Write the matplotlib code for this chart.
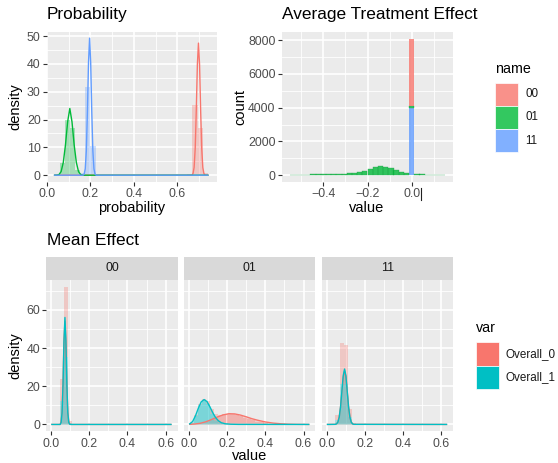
import matplotlib
matplotlib.use("Agg")
import matplotlib.pyplot as plt
from matplotlib.patches import Rectangle
from matplotlib.lines import Line2D

plt.rcParams["font.family"] = ["Liberation Sans", "DejaVu Sans"]

# ---------------- data ----------------
names = ["00", "01", "11"]
name_colors = ["#F8766D", "#00BA38", "#619CFF"]
var_names = ["Overall_0", "Overall_1"]
var_colors = ["#F8766D", "#00BFC4"]

# Probability : histogram (density) + density line per name
prob_bin_width = 0.0235
prob_centers_00 = [0.658, 0.681, 0.705, 0.728]
prob_hist_00 = [0.5, 25.4, 17.0, 0.8]
prob_centers_01 = [0.047, 0.0705, 0.094, 0.1175, 0.141]
prob_hist_01 = [0.3, 4.5, 20.0, 17.0, 2.0]
prob_centers_11 = [0.1645, 0.188, 0.2115, 0.235]
prob_hist_11 = [0.8, 31.8, 10.4, 0.2]

dens_x_00 = [0.035, 0.667, 0.672, 0.677, 0.682, 0.687, 0.692, 0.697, 0.702, 0.707, 0.712, 0.717, 0.722, 0.727, 0.74]
dens_y_00 = [0, 0, 0.6, 2.8, 9.6, 23.4, 39.8, 47.5, 39.8, 23.4, 9.6, 2.8, 0.6, 0, 0]
dens_x_01 = [0.035, 0.045, 0.055, 0.065, 0.075, 0.085, 0.095, 0.105, 0.115, 0.125, 0.135, 0.145, 0.155, 0.165, 0.74]
dens_y_01 = [0, 0, 0.2, 1.3, 4.6, 10.9, 19.2, 24.0, 19.2, 10.9, 4.6, 1.3, 0.2, 0, 0]
dens_x_11 = [0.035, 0.166, 0.171, 0.176, 0.181, 0.186, 0.191, 0.196, 0.201, 0.206, 0.211, 0.216, 0.221, 0.226, 0.74]
dens_y_11 = [0, 0, 0.4, 2.3, 8.8, 22.9, 40.5, 49.3, 40.5, 22.9, 8.8, 2.3, 0.4, 0, 0]

# Average Treatment Effect : stacked count histogram
ate_bin_width = 0.0235
ate_centers = [-0.541, -0.517, -0.494, -0.470, -0.447, -0.423, -0.400, -0.376, -0.353, -0.329,
               -0.306, -0.282, -0.259, -0.235, -0.212, -0.188, -0.165, -0.141, -0.118, -0.094,
               -0.071, -0.047, -0.024, 0.000, 0.024, 0.047, 0.071, 0.094, 0.118, 0.141]
ate_count_00 = [0] * 23 + [4010] + [0] * 6
ate_count_01 = [30, 32, 35, 38, 42, 46, 50, 55, 62, 70, 80, 100, 130, 185, 265,
                380, 480, 530, 510, 420, 300, 185, 105, 80, 70, 50, 40, 35, 32, 30]
ate_count_11 = [0] * 23 + [4000] + [0] * 6

# Mean Effect : facets by name, histogram (stacked density) + density per var
mean_bin_width = 0.0215
mean_centers = [0.014, 0.036, 0.057, 0.079, 0.100, 0.122, 0.143, 0.165, 0.186, 0.208,
                0.229, 0.251, 0.272, 0.294, 0.315, 0.337, 0.358, 0.380, 0.401, 0.423,
                0.444, 0.466, 0.487, 0.509, 0.530, 0.552, 0.573, 0.595, 0.616]
hist_00_o0 = [0, 0, 12.0, 36.5, 1.0]
hist_00_o1 = [0, 0, 12.0, 35.5, 1.0]
hist_01_o0 = [0.05, 0.2, 0.5, 1.0, 1.7, 2.6, 3.6, 4.5, 5.2, 5.6, 5.5, 5.1, 4.4, 3.6, 2.8,
              2.1, 1.5, 1.05, 0.7, 0.45, 0.3, 0.18, 0.1, 0.06, 0.03, 0.02, 0.01, 0.01, 0]
hist_01_o1 = [0.8, 4.5, 10.0, 12.5, 10.5, 5.5, 2.0, 0.6, 0.2, 0.1]
hist_11_o0 = [0, 0, 2.4, 21.2, 20.4, 4.2, 0.3]
hist_11_o1 = [0, 0, 2.3, 21.2, 21.0, 4.0, 0.3]

md_x_00 = [0.005, 0.048, 0.053, 0.058, 0.063, 0.068, 0.073, 0.078, 0.083, 0.088, 0.093, 0.098, 0.103, 0.627]
md_y_00_o0 = [0, 0, 1.5, 7.0, 22.0, 44.0, 54.0, 42.0, 20.0, 6.5, 1.5, 0.2, 0, 0]
md_y_00_o1 = [0, 0, 1.0, 6.0, 20.8, 43.7, 56.0, 43.7, 20.8, 6.0, 1.0, 0.1, 0, 0]
md_x_01_o0 = [0.005, 0.03, 0.06, 0.09, 0.12, 0.15, 0.18, 0.21, 0.24, 0.27, 0.30, 0.33,
              0.36, 0.40, 0.44, 0.48, 0.52, 0.56, 0.627]
md_y_01_o0 = [0.05, 0.2, 0.6, 1.4, 2.6, 3.9, 5.0, 5.6, 5.5, 4.9, 4.0, 3.0,
              2.2, 1.3, 0.7, 0.35, 0.15, 0.06, 0]
md_x_01_o1 = [0.005, 0.02, 0.035, 0.05, 0.065, 0.08, 0.095, 0.11, 0.125, 0.14, 0.155,
              0.17, 0.19, 0.22, 0.26, 0.627]
md_y_01_o1 = [0.3, 1.5, 4.5, 8.5, 11.8, 13.0, 12.0, 9.3, 6.2, 3.6, 1.9,
              0.9, 0.35, 0.1, 0.02, 0]
md_x_11 = [0.005, 0.045, 0.052, 0.059, 0.066, 0.073, 0.080, 0.087, 0.094, 0.101,
           0.108, 0.115, 0.122, 0.129, 0.136, 0.143, 0.627]
md_y_11_o0 = [0, 0.06, 0.3, 1.3, 3.9, 9.3, 17.0, 24.5, 28.0, 24.8, 17.2, 9.3, 3.9, 1.3, 0.3, 0.06, 0]
md_y_11_o1 = [0, 0.05, 0.28, 1.16, 3.7, 9.1, 17.3, 25.5, 29.0, 25.5, 17.3, 9.1, 3.7, 1.16, 0.28, 0.05, 0]

# ---------------- figure ----------------
W, H = 558, 463
fig = plt.figure(figsize=(W / 100, H / 100), dpi=100)


def px_axes(x0, y0, x1, y1):
    return fig.add_axes([x0 / W, 1 - y1 / H, (x1 - x0) / W, (y1 - y0) / H])


def ftext(x, y, s, **kw):
    fig.text(x / W, 1 - y / H, s, **kw)


def gg_style(ax, xmaj, xlab, xmin, ymaj, ylab, ymin, xlim, ylim, show_y=True):
    ax.set_facecolor("#EBEBEB")
    for sp in ax.spines.values():
        sp.set_visible(False)
    ax.set_xlim(xlim)
    ax.set_ylim(ylim)
    ax.set_xticks(xmaj)
    ax.set_xticklabels(xlab)
    ax.set_xticks(xmin, minor=True)
    ax.set_yticks(ymaj)
    ax.set_yticks(ymin, minor=True)
    if show_y:
        ax.set_yticklabels(ylab)
    else:
        ax.set_yticklabels([])
    ax.grid(which="major", color="white", linewidth=1.2)
    ax.grid(which="minor", color="white", linewidth=0.6)
    ax.set_axisbelow(True)
    ax.tick_params(which="major", length=3, width=0.8, color="#333333",
                   labelsize=8.9, labelcolor="#4D4D4D", pad=1.5)
    ax.tick_params(which="minor", length=0)
    if not show_y:
        ax.tick_params(axis="y", which="major", length=0)


# --- Probability ---
ax1 = px_axes(47, 32, 216.5, 182)
gg_style(ax1, [0, 0.2, 0.4, 0.6], ["0.0", "0.2", "0.4", "0.6"], [0.1, 0.3, 0.5, 0.7],
         [0, 10, 20, 30, 40, 50], ["0", "10", "20", "30", "40", "50"], [5, 15, 25, 35, 45],
         (0.0, 0.78), (-2.45, 51.5))
prob_centers = [prob_centers_00, prob_centers_01, prob_centers_11]
prob_hists = [prob_hist_00, prob_hist_01, prob_hist_11]
for c, h, col in zip(prob_centers, prob_hists, name_colors):
    ax1.bar(c, h, width=prob_bin_width, color=col, alpha=0.3, linewidth=0)
for xs, ys, col in zip([dens_x_00, dens_x_01, dens_x_11], [dens_y_00, dens_y_01, dens_y_11], name_colors):
    ax1.plot(xs, ys, color=col, linewidth=1.0)

# --- Average Treatment Effect ---
ax2 = px_axes(281.7, 32, 452.7, 182)
gg_style(ax2, [-0.4, -0.2, 0.0], ["\u22120.4", "\u22120.2", "0.0"], [-0.5, -0.3, -0.1, 0.1],
         [0, 2000, 4000, 6000, 8000], ["0", "2000", "4000", "6000", "8000"], [1000, 3000, 5000, 7000],
         (-0.5885, 0.1856), (-404, 8484))
bottom_01 = ate_count_11
bottom_00 = [a + b for a, b in zip(ate_count_11, ate_count_01)]
ax2.bar(ate_centers, ate_count_11, width=ate_bin_width, color=name_colors[2], alpha=0.8, linewidth=0)
ax2.bar(ate_centers, ate_count_01, width=ate_bin_width, bottom=bottom_01, color=name_colors[1], alpha=0.8,
        edgecolor="#1E9E48", linewidth=0.3)
ax2.bar(ate_centers, ate_count_00, width=ate_bin_width, bottom=bottom_00, color=name_colors[0], alpha=0.8, linewidth=0)

# --- Mean Effect facets ---
facet_x = [(46.2, 177.6), (184.0, 315.4), (321.8, 453.2)]
facet_hist_o0 = [hist_00_o0, hist_01_o0, hist_11_o0]
facet_hist_o1 = [hist_00_o1, hist_01_o1, hist_11_o1]
facet_lines_o0 = [(md_x_00, md_y_00_o0), (md_x_01_o0, md_y_01_o0), (md_x_11, md_y_11_o0)]
facet_lines_o1 = [(md_x_00, md_y_00_o1), (md_x_01_o1, md_y_01_o1), (md_x_11, md_y_11_o1)]

for i, (nm, (x0, x1)) in enumerate(zip(names, facet_x)):
    ax = px_axes(x0, 280, x1, 431.3)
    gg_style(ax, [0, 0.2, 0.4, 0.6], ["0.0", "0.2", "0.4", "0.6"], [0.1, 0.3, 0.5],
             [0, 20, 40, 60], ["0", "20", "40", "60"], [10, 30, 50, 70],
             (-0.025, 0.662), (-3.6, 75.6), show_y=(i == 0))
    o1 = facet_hist_o1[i] + [0] * (len(mean_centers) - len(facet_hist_o1[i]))
    o0 = facet_hist_o0[i] + [0] * (len(mean_centers) - len(facet_hist_o0[i]))
    ax.bar(mean_centers, o1, width=mean_bin_width, color=var_colors[1], alpha=0.3, linewidth=0)
    ax.bar(mean_centers, o0, width=mean_bin_width, bottom=o1, color=var_colors[0], alpha=0.3, linewidth=0)
    for (xs, ys), col in zip([facet_lines_o0[i], facet_lines_o1[i]], var_colors):
        ax.fill_between(xs, ys, 0, color=col, alpha=0.25, linewidth=0)
        ax.plot(xs, ys, color=col, linewidth=1.0)
    sax = px_axes(x0, 256.7, x1, 280)
    sax.set_facecolor("#D9D9D9")
    sax.set_xticks([])
    sax.set_yticks([])
    for sp in sax.spines.values():
        sp.set_visible(False)
    sax.text(0.5, 0.5, nm, transform=sax.transAxes, ha="center", va="center",
             fontsize=8.9, color="#1A1A1A")

# --- titles and axis labels ---
ftext(47, 15, "Probability", fontsize=12.4, ha="left", va="center")
ftext(282, 15, "Average Treatment Effect", fontsize=12.4, ha="left", va="center")
ftext(47, 240, "Mean Effect", fontsize=12.4, ha="left", va="center")
ftext(15, 107, "density", fontsize=10.5, rotation=90, ha="center", va="center")
ftext(131.5, 208, "probability", fontsize=10.5, ha="center", va="center")
ftext(240, 107, "count", fontsize=10.5, rotation=90, ha="center", va="center")
ftext(367, 208, "value", fontsize=10.5, ha="center", va="center")
ftext(15, 356, "density", fontsize=10.5, rotation=90, ha="center", va="center")
ftext(249.5, 456, "value", fontsize=10.5, ha="center", va="center")

# text cursor left in the screenshot
fig.add_artist(Line2D([421 / W, 421 / W], [1 - 188 / H, 1 - 200 / H], color="#222222", linewidth=0.8))


# --- legends ---
def draw_legend(x, title, title_y, key_top, labels, colors):
    ftext(x, title_y, title, fontsize=10.3, ha="left", va="center")
    key = 23.2
    for j, (lab, col) in enumerate(zip(labels, colors)):
        y = key_top + j * key
        fig.add_artist(Rectangle((x / W, 1 - (y + key) / H), key / W, key / H,
                                 transform=fig.transFigure, facecolor=col,
                                 edgecolor="white", linewidth=0.5))
        ftext(x + key + 7, y + key / 2, lab, fontsize=8.4, ha="left", va="center", color="#1A1A1A")


draw_legend(495, "name", 69, 82.7, names, ["#F9918A", "#33C860", "#81B0FF"])
draw_legend(475.7, "var", 328.3, 342.3, var_names, var_colors)

fig.savefig("out.png", dpi=100)
